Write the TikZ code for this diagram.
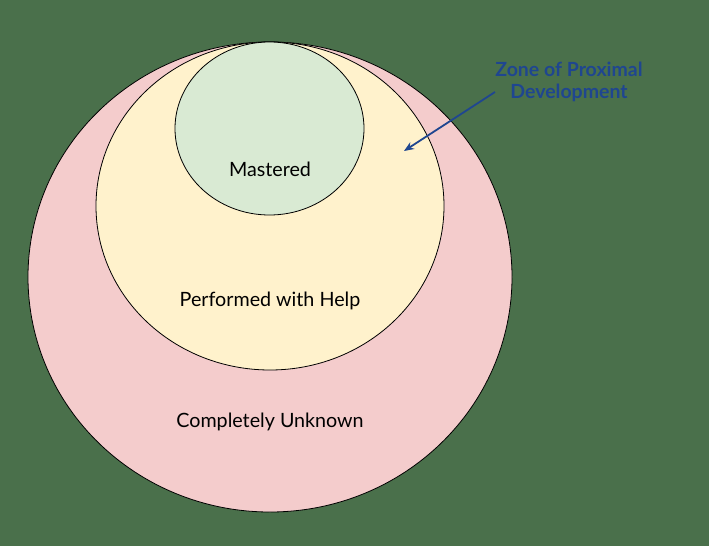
\documentclass[tikz,border=0pt]{standalone}
\usepackage{fontspec}
\setmainfont{Lato}
\usetikzlibrary{arrows.meta}
\definecolor{bgc}{HTML}{4A704B}
\definecolor{pinkc}{HTML}{F4CCCC}
\definecolor{yelc}{HTML}{FFF2CC}
\definecolor{grnc}{HTML}{D9EAD3}
\definecolor{bluec}{HTML}{1F4690}
\tikzset{
  zone/.style={draw=black, line width=0.8pt},
  lbl/.style={font=\fontsize{19.7}{23}\selectfont, text=black},
  note/.style={font=\bfseries\fontsize{19.5}{21.5}\selectfont, text=bluec, align=center},
}
\begin{document}
\begin{tikzpicture}[x=1pt,y=-1pt]
\fill[bgc] (0,0) rectangle (709,546);
\useasboundingbox (0,0) rectangle (709,546);
\path[zone, fill=pinkc] (270,277) ellipse [x radius=242, y radius=235];
\path[zone, fill=yelc] (270,206) ellipse [x radius=174, y radius=164];
\path[zone, fill=grnc] (269.5,128.5) ellipse [x radius=94.5, y radius=86.5];
\node[lbl] (mast) at (270,169) {Mastered};
\node[lbl] (help) at (270,301) {Performed with Help};
\node[lbl] (unk) at (270,422) {Completely Unknown};
\node[note] (zpd) at (569,82) {Zone of Proximal\\Development};
\coordinate (tail) at (495,92);
\coordinate (tip) at (404,151);
\draw[bluec, line width=1.8pt, -{Stealth[length=10pt,width=8pt]}] (tail) -- (tip);
\end{tikzpicture}
\end{document}
